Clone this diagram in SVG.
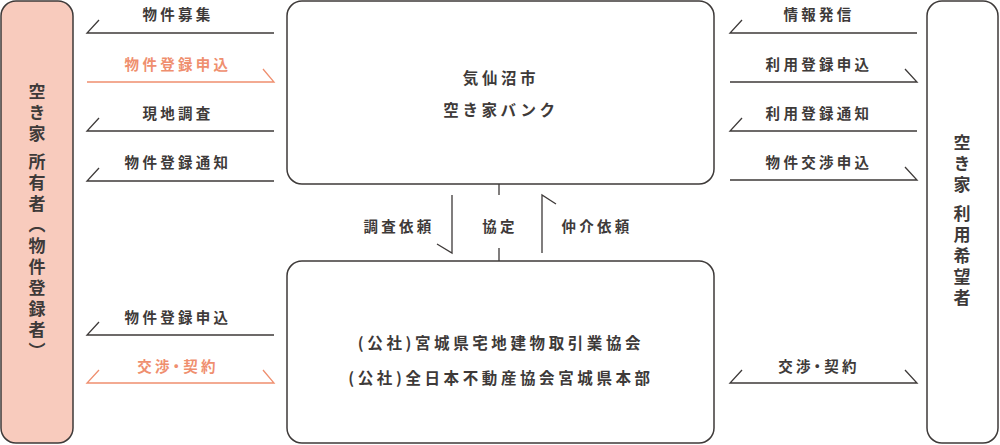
<svg xmlns="http://www.w3.org/2000/svg" width="1000" height="445" viewBox="0 0 1000 445">
<style>
text{font-family:"Noto Sans CJK JP","Noto Sans CJK SC",sans-serif;font-weight:700;fill:#3e3a39}
.lbl{font-size:14.5px;letter-spacing:3.3px;text-anchor:middle}
.big{font-size:15.5px;letter-spacing:3.6px;text-anchor:middle}
.vt{font-size:17px;letter-spacing:4px;text-anchor:middle;writing-mode:vertical-rl}
.pa{font-feature-settings:"palt"}
.or{fill:#ef8f6f}
.box{fill:#fff;stroke:#3e3a39;stroke-width:1.5}
.ln{fill:none;stroke:#3e3a39;stroke-width:1.3}
.lo{fill:none;stroke:#ef8f6f;stroke-width:1.3}
</style>
<rect width="1000" height="445" fill="#fff"/>
<g id="owner">
<rect x="1" y="1" width="72" height="442" rx="15" fill="#f8cbbd" stroke="#3e3a39" stroke-width="1.5"/>
<text class="vt" x="37" y="223">空き家 所有者（物件登録者）</text>
</g>
<g id="user">
<rect x="927" y="1" width="71" height="442" rx="15" class="box"/>
<text class="vt" x="962" y="222">空き家 利用希望者</text>
</g>
<g id="bank">
<rect x="287" y="1" width="427" height="183" rx="15" class="box"/>
<text class="big" x="501" y="84">気仙沼市</text>
<text class="big" x="501" y="116">空き家バンク</text>
</g>
<g id="assoc">
<rect x="287" y="261" width="427" height="182" rx="15" class="box"/>
<text class="big" x="501" y="349">(公社)宮城県宅地建物取引業協会</text>
<text class="big" x="501" y="384">(公社)全日本不動産協会宮城県本部</text>
</g>
<g id="connectors">
<path class="ln" d="M274 33H87L99 20"/>
<path class="lo" d="M87 82H274L263 69"/>
<path class="ln" d="M274 131H87L99 118"/>
<path class="ln" d="M274 181H87L99 168"/>
<path class="ln" d="M274 335H87L99 322"/>
<path class="lo" d="M99 370L87 383H274L263 370"/>
<path class="ln" d="M917 33H730L742 20"/>
<path class="ln" d="M730 82H917L905 69"/>
<path class="ln" d="M917 131H730L742 118"/>
<path class="ln" d="M730 180H917L905 167"/>
<path class="ln" d="M742 370L730 383H917L905 370"/>
<path class="ln" d="M452 195V253L437 244"/>
<path class="ln" d="M499 184V195M499 248V261"/>
<path class="ln" d="M542 253V195L556 204"/>
<text class="lbl" x="178" y="20">物件募集</text>
<text class="lbl or" x="178" y="70">物件登録申込</text>
<text class="lbl" x="178" y="119">現地調査</text>
<text class="lbl" x="178" y="168">物件登録通知</text>
<text class="lbl" x="178" y="323">物件登録申込</text>
<text class="lbl or pa" x="178" y="372">交渉・契約</text>
<text class="lbl" x="819" y="20">情報発信</text>
<text class="lbl" x="819" y="70">利用登録申込</text>
<text class="lbl" x="819" y="119">利用登録通知</text>
<text class="lbl" x="819" y="168">物件交渉申込</text>
<text class="lbl pa" x="819" y="372">交渉・契約</text>
<text class="lbl" x="399" y="232">調査依頼</text>
<text class="lbl" x="500" y="232">協定</text>
<text class="lbl" x="597" y="232">仲介依頼</text>
</g>
</svg>
